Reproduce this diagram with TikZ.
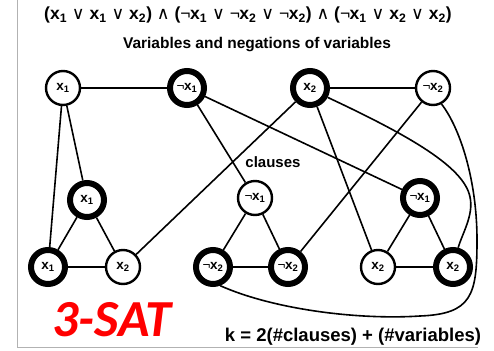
\documentclass[tikz,border=0pt]{standalone}
\usepackage{fontspec}
\setmainfont{Liberation Sans}
\newfontfamily\symfam{DejaVu Sans}
\newfontfamily\satfont{Carlito}
\newcommand{\xv}[1]{x\textsubscript{#1}}
\newcommand{\nxv}[1]{{\mdseries¬}\kern-0.5pt x\textsubscript{#1}}
\newcommand{\orsym}{{\symfam\mdseries ∨}}
\newcommand{\andsym}{{\symfam\mdseries ∧}}

\tikzset{
  lit/.style={circle, draw, fill=white, minimum size=34pt, inner sep=0pt,
    font=\bfseries\fontsize{13.5}{14}\selectfont},
  thinlit/.style={lit, line width=2.4pt},
  thicklit/.style={lit, line width=6pt},
  wire/.style={line width=1.6pt},
  frameline/.style={draw=black!30, line width=1pt},
}

\begin{document}
\begin{tikzpicture}[x=1pt, y=-1pt]
\useasboundingbox (0,0) rectangle (494,350);
\draw[frameline] (17,0) -- (17,347) -- (478,347);

% formula and captions
\node (formula) at (248,15) {\bfseries\fontsize{17.5}{18}\selectfont
  (\xv1 \orsym{} \xv1 \orsym{} \xv2) \andsym{} (\nxv1 \orsym{} \nxv2 \orsym{} \nxv2) \andsym{} (\nxv1 \orsym{} \xv2 \orsym{} \xv2)};
\node (vartitle) at (257,45) {\bfseries\fontsize{15.5}{16}\selectfont Variables and negations of variables};
\node (cltitle) at (273,162) {\bfseries\fontsize{15}{15}\selectfont clauses};
\node[text=red] (sat) at (112,320) {\satfont\bfseries\itshape\fontsize{52}{52}\selectfont 3-SAT};
\node (kform) at (353,337) {\bfseries\fontsize{18.5}{19}\selectfont k = 2(\#clauses) + (\#variables)};

% variables and their negations
\node[thinlit]  (v1) at (63,88)  {\xv1};
\node[thicklit] (v2) at (187,88) {\nxv1};
\node[thicklit] (v3) at (310,88) {\xv2};
\node[thinlit]  (v4) at (433,88) {\nxv2};

% clause gadgets
\node[thicklit] (a1) at (87,200)  {\xv1};
\node[thicklit] (a2) at (48,267)  {\xv1};
\node[thinlit]  (a3) at (123,267) {\xv2};

\node[thinlit]  (b1) at (255,198) {\nxv1};
\node[thicklit] (b2) at (213,267) {\nxv2};
\node[thicklit] (b3) at (288,267) {\nxv2};

\node[thicklit] (c1) at (420,198) {\nxv1};
\node[thinlit]  (c2) at (378,267) {\xv2};
\node[thicklit] (c3) at (453,267) {\xv2};

% edges
\draw[wire] (v1) -- (v2);
\draw[wire] (v3) -- (v4);
\draw[wire] (v1) -- (a1);
\draw[wire] (v1) -- (a2);
\draw[wire] (a1) -- (a2);
\draw[wire] (a1) -- (a3);
\draw[wire] (a2) -- (a3);
\draw[wire] (a3) -- (v3);
\draw[wire] (v2) -- (b1);
\draw[wire] (v2) -- (c1);
\draw[wire] (v3) -- (c2);
\draw[wire] (v4) -- (b3);
\draw[wire] (b1) -- (b2);
\draw[wire] (b1) -- (b3);
\draw[wire] (b2) -- (b3);
\draw[wire] (c1) -- (c2);
\draw[wire] (c1) -- (c3);
\draw[wire] (c2) -- (c3);
\draw[wire] (v3.-28) .. controls (410,136) and (464,167) .. (470,197)
  .. controls (474,215) and (462,234) .. (c3.75);
\draw[wire] (v4.-62) .. controls (460,128) and (477,180) .. (477,240)
  .. controls (477,295) and (472,314) .. (420,316)
  .. controls (360,320) and (275,310) .. (b2.-69);
\end{tikzpicture}
\end{document}
